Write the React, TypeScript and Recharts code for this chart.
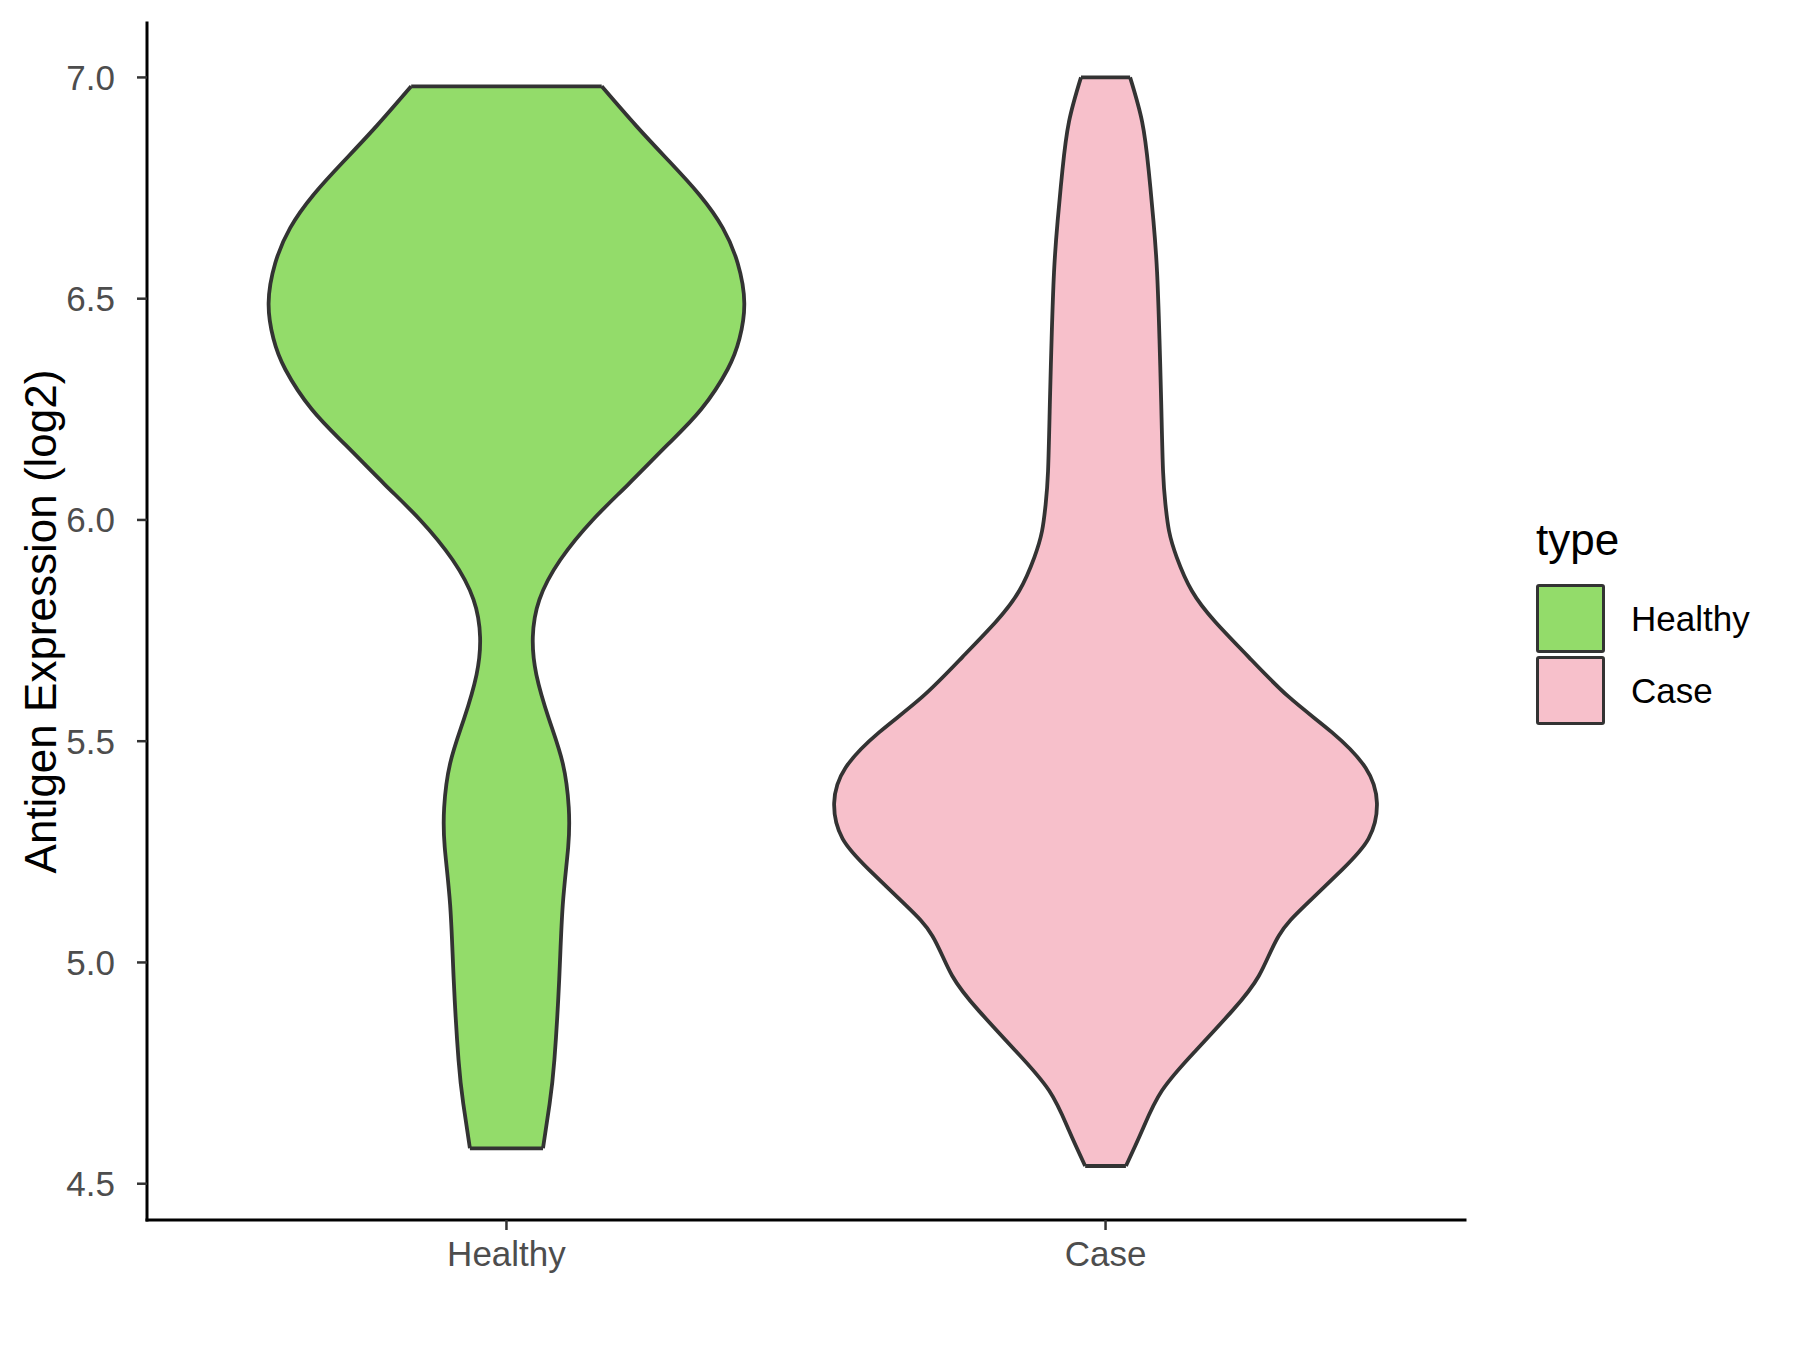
import React from 'react';
import { ComposedChart, Area, XAxis, YAxis, ReferenceLine, Legend } from 'recharts';

const categories = ['Healthy', 'Case'];
const categoryPositions = [1, 2];
const fills = ['#93dc6a', '#f7c0cb'];
const yTicks = [4.5, 5.0, 5.5, 6.0, 6.5, 7.0];

// violin outlines: expression level and half-width (in category units)
const healthyLevels = [4.58, 4.68, 4.78, 4.96, 5.13, 5.26, 5.35, 5.45, 5.55, 5.65, 5.735, 5.82, 5.91, 6.0, 6.08, 6.17, 6.25, 6.34, 6.41, 6.49, 6.58, 6.66, 6.735, 6.81, 6.89, 6.98];
const healthyHalf = [0.061, 0.072, 0.08, 0.088, 0.094, 0.103, 0.104, 0.094, 0.071, 0.05, 0.044, 0.055, 0.09, 0.144, 0.203, 0.269, 0.325, 0.369, 0.389, 0.397, 0.386, 0.361, 0.322, 0.272, 0.217, 0.159];

const caseLevels = [4.54, 4.62, 4.71, 4.8, 4.89, 4.97, 5.06, 5.13, 5.21, 5.28, 5.36, 5.44, 5.52, 5.6, 5.69, 5.77, 5.84, 5.915, 5.975, 6.035, 6.11, 6.26, 6.41, 6.56, 6.675, 6.79, 6.9, 7.0];
const caseHalf = [0.034, 0.061, 0.094, 0.15, 0.211, 0.256, 0.289, 0.334, 0.395, 0.439, 0.453, 0.434, 0.378, 0.306, 0.239, 0.183, 0.144, 0.119, 0.106, 0.1, 0.096, 0.093, 0.09, 0.086, 0.08, 0.072, 0.061, 0.041];

const FONT = '"Liberation Sans", Arial, sans-serif';
const OUTLINE = '#333333';

const violin = (levels: number[], half: number[], center: number) =>
  levels.map((y, i) => ({ y, range: [center - half[i], center + half[i]] }));

const violins = [
  violin(healthyLevels, healthyHalf, categoryPositions[0]),
  violin(caseLevels, caseHalf, categoryPositions[1]),
];

function TypeLegend() {
  return (
    <div style={{ fontFamily: FONT, color: '#000' }}>
      <div style={{ fontSize: 44, lineHeight: '44px', marginBottom: 22 }}>type</div>
      {categories.map((c, i) => (
        <div key={c} style={{ display: 'flex', alignItems: 'center', height: 69, marginBottom: 3 }}>
          <div
            style={{
              width: 63,
              height: 63,
              background: fills[i],
              border: `3px solid ${OUTLINE}`,
              borderRadius: 3,
            }}
          />
          <span style={{ marginLeft: 26, fontSize: 35 }}>{c}</span>
        </div>
      ))}
    </div>
  );
}

function YTitle({ viewBox }: any) {
  const x = viewBox.x + 56;
  const y = viewBox.y + viewBox.height / 2;
  return (
    <text
      x={x}
      y={y}
      transform={`rotate(-90, ${x}, ${y})`}
      textAnchor="middle"
      fontSize={44}
      fontFamily={FONT}
      fill="#000"
    >
      Antigen Expression (log2)
    </text>
  );
}

export default function App() {
  return (
    <div style={{ position: 'absolute', left: 0, top: 0, width: 1800, height: 1350, background: '#fff' }}>
      <ComposedChart
        width={1800}
        height={1350}
        layout="vertical"
        margin={{ top: 23, right: 335, bottom: 70, left: 0 }}
      >
        <XAxis
          type="number"
          domain={[0.4, 2.6]}
          ticks={categoryPositions}
          tickFormatter={(v: number) => categories[v - 1]}
          height={60}
          tickSize={10}
          tickMargin={11}
          axisLine={{ stroke: '#000', strokeWidth: 3, strokeLinecap: 'square' }}
          tickLine={{ stroke: OUTLINE, strokeWidth: 2.5 }}
          tick={{ fill: '#4d4d4d', fontSize: 35, fontFamily: FONT }}
          allowDataOverflow
        />
        <YAxis
          type="number"
          dataKey="y"
          domain={[4.418, 7.123]}
          reversed
          ticks={yTicks}
          tickFormatter={(v: number) => v.toFixed(1)}
          width={147}
          tickSize={10}
          tickMargin={22}
          axisLine={{ stroke: '#000', strokeWidth: 3, strokeLinecap: 'square' }}
          tickLine={{ stroke: OUTLINE, strokeWidth: 2.5 }}
          tick={{ fill: '#4d4d4d', fontSize: 35, fontFamily: FONT }}
          label={<YTitle />}
          allowDataOverflow
        />
        {violins.map((d, i) => (
          <Area
            key={categories[i]}
            name={categories[i]}
            data={d}
            dataKey="range"
            type="natural"
            stroke={OUTLINE}
            strokeWidth={3.8}
            fill={fills[i]}
            fillOpacity={1}
            dot={false}
            activeDot={false}
            isAnimationActive={false}
          />
        ))}
        {violins.map((d, i) =>
          [d[0], d[d.length - 1]].map((p, j) => (
            <ReferenceLine
              key={`${i}-${j}`}
              segment={[
                { x: p.range[0], y: p.y },
                { x: p.range[1], y: p.y },
              ]}
              stroke={OUTLINE}
              strokeWidth={3.8}
            />
          ))
        )}
        <Legend
          layout="horizontal"
          align="center"
          verticalAlign="middle"
          content={<TypeLegend />}
          wrapperStyle={{ left: 1536, top: 518, width: 260, margin: 0 }}
        />
      </ComposedChart>
    </div>
  );
}
